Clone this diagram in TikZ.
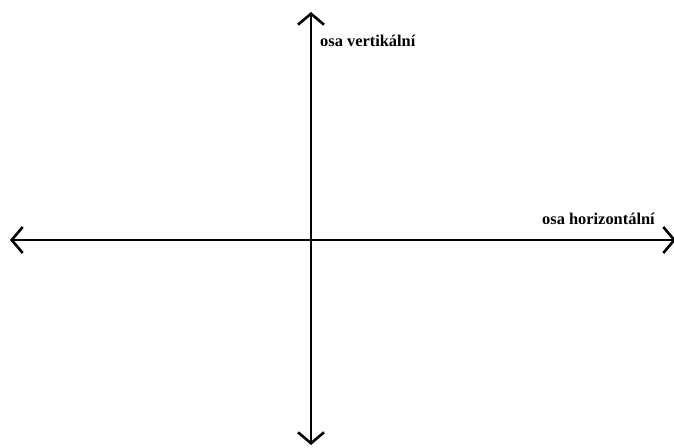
\documentclass[tikz,border=0pt]{standalone}
\usepackage{fontspec}
\setmainfont{Liberation Serif}
\usetikzlibrary{arrows.meta}

\begin{document}
\begin{tikzpicture}[
  x=1pt, y=1pt,
  axis/.style={line width=2.6pt,
    {Straight Barb[length=11pt, width=26pt, line width=2.6pt]}-{Straight Barb[length=11pt, width=26pt, line width=2.6pt]}},
  axislabel/.style={font=\bfseries\fontsize{16.4}{18}\selectfont, inner sep=0pt, anchor=base west},
]
\useasboundingbox (0,0) rectangle (674,447);

% === Axes ===
\coordinate (top) at (311,435);
\coordinate (bottom) at (311,2);
\coordinate (left) at (10,207);
\coordinate (right) at (676,207);

\draw[axis] (bottom) -- (top);
\draw[axis] (left) -- (right);

% === Axis labels ===
\node[axislabel] (vlabel) at (320,400) {osa vertikální};
\node[axislabel] (hlabel) at (542,222) {osa horizontální};

\end{tikzpicture}
\end{document}
